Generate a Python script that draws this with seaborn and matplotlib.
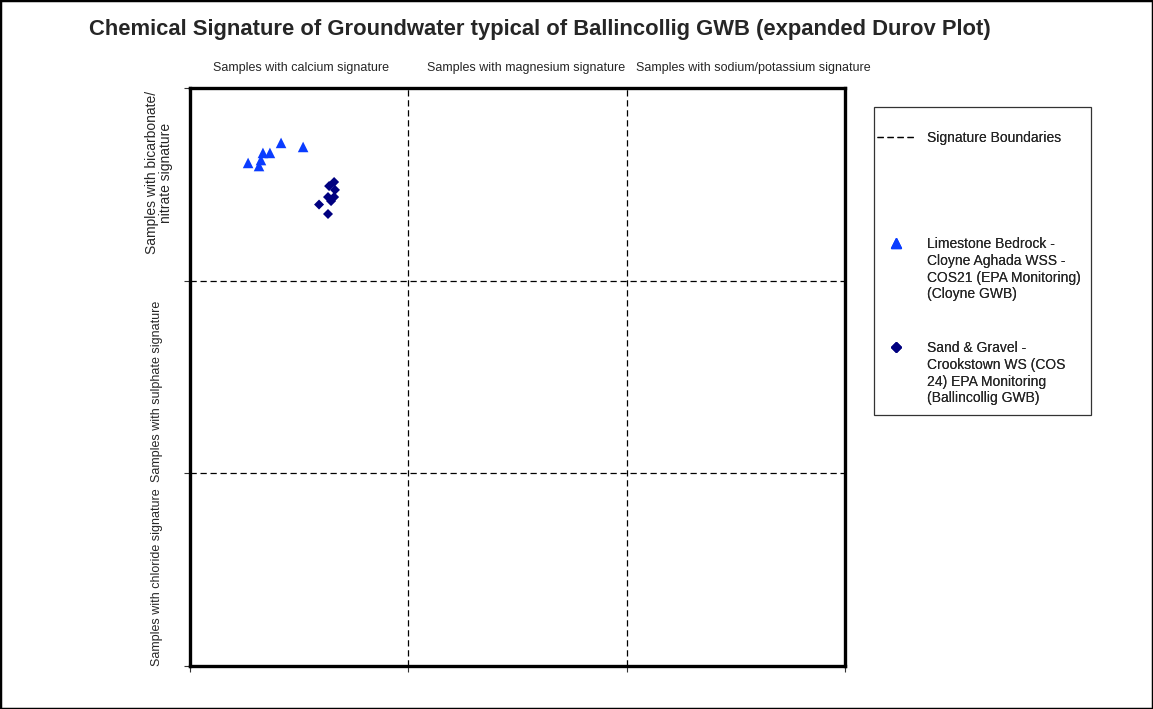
import pandas as pd
import matplotlib
matplotlib.use('Agg')
import matplotlib.pyplot as plt
import seaborn as sns
from matplotlib.lines import Line2D
from matplotlib.patches import Rectangle

# sample positions on the expanded Durov grid (0-300 on both axes)
limestone_x = [26.6, 31.6, 32.5, 33.4, 36.6, 41.7, 51.8]
limestone_y = [261.1, 259.5, 262.6, 266.3, 266.3, 271.5, 269.4]
gravel_x = [66.0, 63.7, 66.4, 63.2, 66.0, 64.6, 59.1, 63.2]
gravel_y = [251.2, 249.1, 247.1, 243.4, 243.4, 241.3, 239.5, 234.6]

series_names = ['Limestone Bedrock -\nCloyne Aghada WSS -\nCOS21 (EPA Monitoring)\n(Cloyne GWB)',
                'Sand & Gravel -\nCrookstown WS (COS\n24) EPA Monitoring\n(Ballincollig GWB)']
column_labels = ['Samples with calcium signature',
                 'Samples with magnesium signature',
                 'Samples with sodium/potassium signature']
row_labels = ['Samples with chloride signature',
              'Samples with sulphate signature',
              'Samples with bicarbonate/\nnitrate signature']
boundaries = [100, 200]
title = 'Chemical Signature of Groundwater typical of Ballincollig GWB (expanded Durov Plot)'

df = pd.concat([
    pd.DataFrame({'x': limestone_x, 'y': limestone_y, 'group': series_names[0]}),
    pd.DataFrame({'x': gravel_x, 'y': gravel_y, 'group': series_names[1]}),
])

sns.set_style('white')
plt.rcParams['font.family'] = ['Liberation Sans', 'DejaVu Sans']

fig = plt.figure(figsize=(11.53, 7.09), dpi=100)
ax = fig.add_axes([0.1648, 0.0606, 0.5681, 0.8153])

colors = {series_names[0]: '#0a3cff', series_names[1]: '#000080'}
sns.scatterplot(data=df[df.group == series_names[0]], x='x', y='y', color=colors[series_names[0]],
                marker='^', s=58, edgecolor='none', ax=ax, zorder=3)
sns.scatterplot(data=df[df.group == series_names[1]], x='x', y='y', color=colors[series_names[1]],
                marker='D', s=26, edgecolor='none', ax=ax, zorder=3)

dash = (0, (5, 3))
for b in boundaries:
    ax.axvline(b, color='black', lw=0.9, ls=dash, zorder=1)
    ax.axhline(b, color='black', lw=0.9, ls=dash, zorder=1)

ax.set_xlim(0, 300)
ax.set_ylim(0, 300)
ax.set_xticks([0, 100, 200, 300])
ax.set_yticks([0, 100, 200, 300])
ax.set_xticklabels([])
ax.set_yticklabels([])
ax.set_xlabel('')
ax.set_ylabel('')
ax.tick_params(direction='out', length=4, width=0.8, color='#333333',
               bottom=True, left=True)
for sp in ax.spines.values():
    sp.set_visible(True)
    sp.set_color('black')
    sp.set_linewidth(2.4)

# signature labels around the grid
col_pos = [51, 154, 258]
for xp, lab in zip(col_pos, column_labels):
    ax.text(xp, 1.0346, lab, transform=ax.get_xaxis_transform(),
            ha='center', va='center', fontsize=9)
row_pos = [46, 142.5, 256]
for yp, lab in zip(row_pos, row_labels):
    two_line = '\n' in lab
    ax.text(-0.0473 if two_line else -0.0504, yp, lab, transform=ax.get_yaxis_transform(),
            rotation=90, ha='center', va='center', fontsize=10 if two_line else 9,
            multialignment='center', linespacing=1.05)

fig.text(0.468, 0.958, title, ha='center', va='center', fontsize=15.8, fontweight='bold')

# legend: framed box drawn once, entries placed inside it
fig.patches.append(Rectangle((874 / 1153, 1 - 415 / 709), 217 / 1153, 308 / 709,
                             transform=fig.transFigure, fill=False, lw=0.9,
                             edgecolor='#333333'))


def legend_block(handle, text, top_px):
    lines = text.split('\n')
    hs = [handle] + [Line2D([], [], ls='none') for _ in lines[1:]]
    leg = fig.legend(hs, lines, loc='upper left', bbox_to_anchor=(877 / 1153, 1 - top_px / 709),
                     borderaxespad=0, borderpad=0, frameon=False, fontsize=10,
                     handlelength=2.75, handletextpad=0.86, labelspacing=0.2)
    fig.add_artist(leg)


legend_block(Line2D([], [], color='black', lw=0.9, ls=dash), 'Signature Boundaries', 131)
legend_block(Line2D([], [], ls='none', marker='^', color=colors[series_names[0]], markersize=7.5),
             series_names[0], 237)
legend_block(Line2D([], [], ls='none', marker='D', color=colors[series_names[1]], markersize=5),
             series_names[1], 341)

fig.patches.append(Rectangle((0, 0), 1, 1, transform=fig.transFigure, fill=False,
                             lw=2.5, edgecolor='black'))

fig.savefig('out.png', dpi=100)
